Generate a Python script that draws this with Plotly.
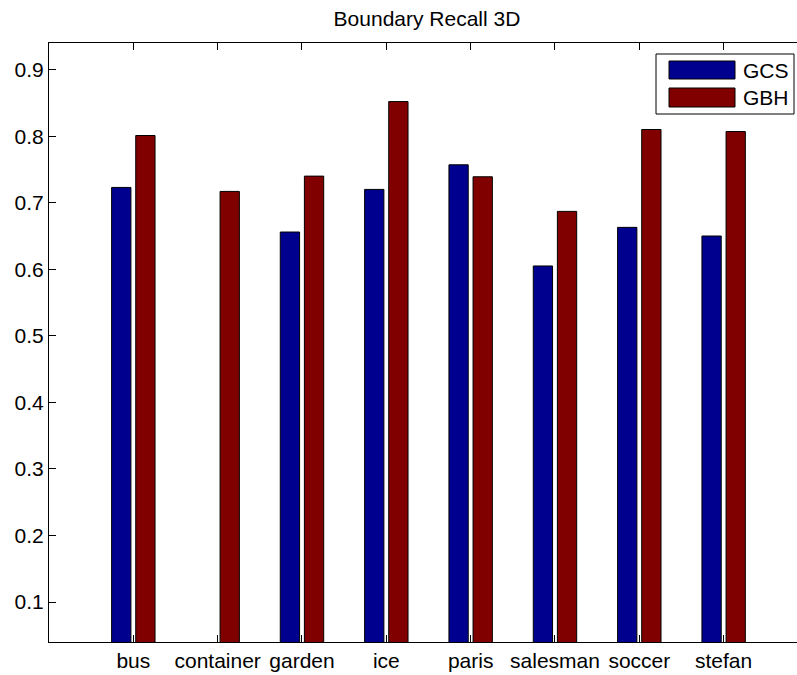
import plotly.graph_objects as go

# Boundary recall per sequence
sequences = ["bus", "container", "garden", "ice", "paris", "salesman", "soccer", "stefan"]
gcs_recall = [0.723, None, 0.656, 0.720, 0.757, 0.605, 0.663, 0.650]
gbh_recall = [0.801, 0.717, 0.740, 0.852, 0.739, 0.687, 0.810, 0.807]
y_ticks = [0.1, 0.2, 0.3, 0.4, 0.5, 0.6, 0.7, 0.8, 0.9]

GCS_COLOR = "rgb(0,0,143)"
GBH_COLOR = "rgb(128,0,0)"
FONT = "Liberation Sans, Arial, Helvetica, sans-serif"

W, H = 797, 675
ML, MR, MT, MB = 49, 0, 43, 33
PW, PH = W - ML - MR, H - MT - MB

fig = go.Figure()
fig.add_trace(go.Bar(x=sequences, y=gcs_recall, name="GCS",
                     marker=dict(color=GCS_COLOR, line=dict(color="black", width=1))))
fig.add_trace(go.Bar(x=sequences, y=gbh_recall, name="GBH",
                     marker=dict(color=GBH_COLOR, line=dict(color="black", width=1))))


def px_x(p):
    return (p - ML) / PW


def px_y(p):
    return (H - MB - p) / PH


# Hand-built legend box with wide colour swatches
shapes = [dict(type="rect", xref="paper", yref="paper",
               x0=px_x(656), x1=px_x(794), y0=px_y(114), y1=px_y(54),
               line=dict(color="black", width=1), fillcolor="white", layer="above")]
annotations = []
for (name, color, top, bot) in [("GCS", GCS_COLOR, 61, 79), ("GBH", GBH_COLOR, 88, 107)]:
    shapes.append(dict(type="rect", xref="paper", yref="paper",
                       x0=px_x(669), x1=px_x(735), y0=px_y(bot), y1=px_y(top),
                       line=dict(color="black", width=1), fillcolor=color, layer="above"))
    annotations.append(dict(text=name, xref="paper", yref="paper",
                            x=px_x(741), y=px_y((top + bot) / 2),
                            xanchor="left", yanchor="middle", showarrow=False,
                            font=dict(family=FONT, size=21, color="black")))

fig.update_layout(
    width=W, height=H,
    margin=dict(l=ML, r=MR, t=MT, b=MB),
    paper_bgcolor="white", plot_bgcolor="white",
    barmode="group", bargap=0.428, bargroupgap=0.2,
    showlegend=False,
    font=dict(family=FONT, size=21, color="black"),
    title=dict(text="Boundary Recall 3D", x=px_x(427), xref="paper", xanchor="center",
               y=1 - 19 / H, yanchor="middle",
               font=dict(family=FONT, size=21, color="black")),
    shapes=shapes, annotations=annotations,
)
fig.update_xaxes(range=[-1, 7.87], showgrid=False, showline=True, linecolor="black",
                 linewidth=1, mirror="ticks", ticks="inside", ticklen=7,
                 tickcolor="black", zeroline=False)
fig.update_yaxes(range=[0.04, 0.94], tickvals=y_ticks, ticktext=[f"{v:.1f}" for v in y_ticks],
                 showgrid=False, showline=True, linecolor="black", linewidth=1,
                 ticks="inside", ticklen=7, tickcolor="black", zeroline=False)

fig.write_html("out.html")
